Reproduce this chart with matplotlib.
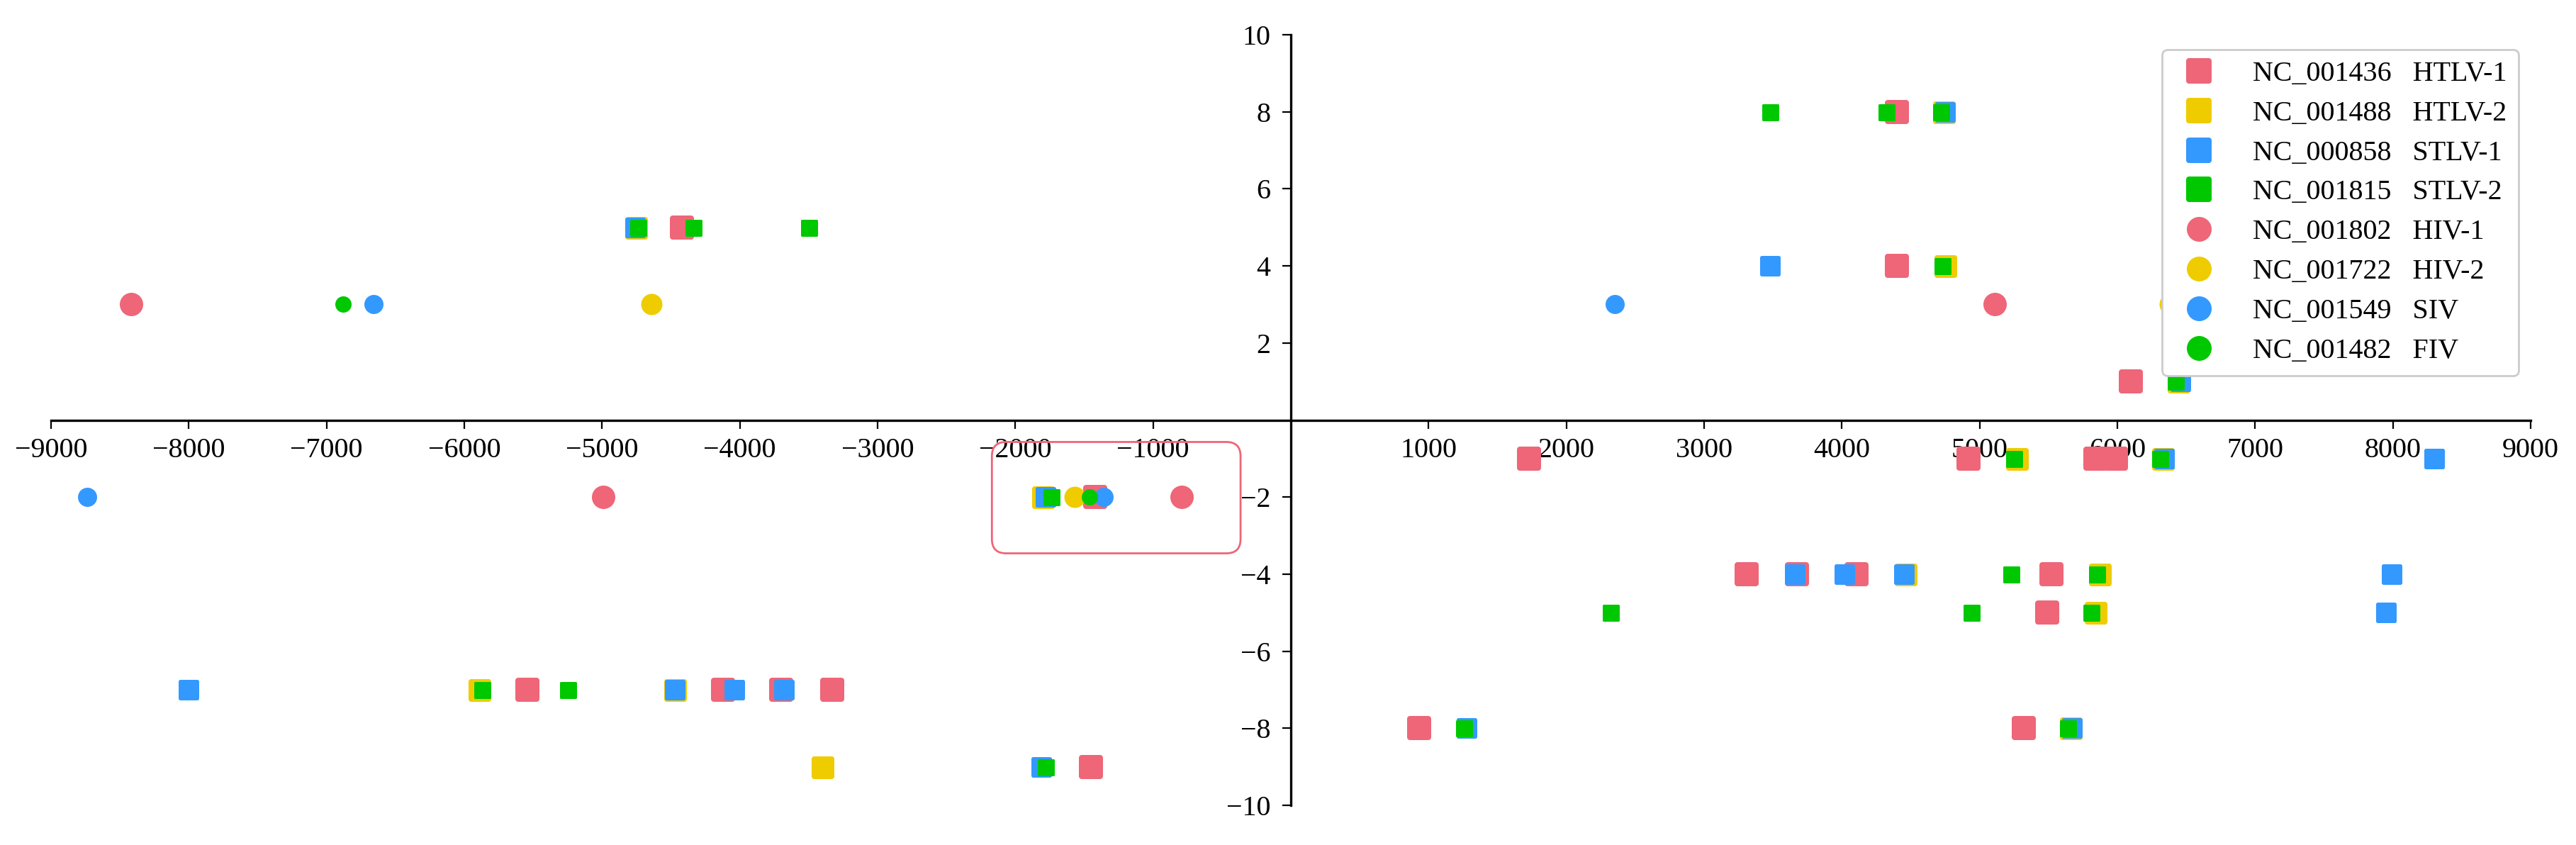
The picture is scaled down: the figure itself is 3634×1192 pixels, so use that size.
import matplotlib
matplotlib.use('Agg')
import matplotlib.pyplot as plt
from matplotlib.markers import MarkerStyle
from matplotlib.lines import Line2D
from matplotlib.patches import FancyBboxPatch

plt.rcParams['font.family'] = ['Liberation Serif', 'DejaVu Serif']
plt.rcParams['font.size'] = 28.8

RED = '#EE6677'
YELLOW = '#EECC00'
BLUE = '#3399FF'
GREEN = '#00C800'

labels = ['NC_001436   HTLV-1', 'NC_001488   HTLV-2', 'NC_000858   STLV-1', 'NC_001815   STLV-2',
          'NC_001802   HIV-1', 'NC_001722   HIV-2', 'NC_001549   SIV', 'NC_001482   FIV']

# squares
htlv1_x = [-4420, -5540, -4120, -3700, -3330, -1450, -1420, 4400, 4400, 6100, 1730, 4920, 5840, 5990,
           3310, 3675, 4107, 5520, 5490, 930, 5320]
htlv1_y = [5, -7, -7, -7, -7, -9, -2, 8, 4, 1, -1, -1, -1, -1, -4, -4, -4, -4, -5, -8, -8]

htlv2_x = [-4755, -5890, -4470, -3400, -1800, 4740, 4750, 6440, 5270, 6330, 4460, 5870, 5840, 5660]
htlv2_y = [5, -7, -7, -9, -2, 8, 4, 1, -1, -1, -4, -4, -5, -8]

stlv1_x = [-4760, -8000, -4470, -4040, -3680, -1810, -1780, 4750, 3480, 6460, 6340, 8300, 3660, 4020,
           4450, 7990, 7950, 1277, 5670]
stlv1_y = [5, -7, -7, -7, -7, -9, -2, 8, 4, 1, -1, -1, -4, -4, -4, -4, -5, -8, -8]

stlv2_x = [-4740, -4340, -3500, -5870, -5250, -1780, -1740, 3480, 4320, 4720, 4730, 6420, 5250, 6310,
           2320, 5230, 5850, 4940, 5810, 1256, 5640]
stlv2_y = [5, 5, 5, -7, -7, -9, -2, 8, 8, 8, 4, 1, -1, -1, -5, -4, -4, -5, -5, -8, -8]

# circles
hiv1_x = [-8420, -4990, -790, 5110]
hiv1_y = [3, -2, -2, 3]
hiv2_x = [-4640, -1570, 6380]
hiv2_y = [3, -2, 3]
siv_x = [-8740, -6660, -1360, 2350]
siv_y = [-2, 3, -2, 3]
fiv_x = [-6880, -1460]
fiv_y = [3, -2]

xticks = [-9000, -8000, -7000, -6000, -5000, -4000, -3000, -2000, -1000,
          1000, 2000, 3000, 4000, 5000, 6000, 7000, 8000, 9000]
yticks = [-10, -8, -6, -4, -2, 2, 4, 6, 8, 10]

# highlighted region (data coords)
box_x0, box_x1 = -2170, -365
box_y0, box_y1 = -3.46, -0.57

DPI = 100
def pt(px):
    return px * 72.0 / DPI

fig = plt.figure(figsize=(36.34, 11.92), dpi=DPI)
ax = fig.add_axes([72 / 3634, 1 - 1136 / 1192, 3498 / 3634, 1087 / 1192])

def squares(x, y, color, size_px, edge_px):
    ax.plot(x, y, linestyle='none', marker=MarkerStyle('s', joinstyle='round'),
            markersize=pt(size_px - edge_px), markerfacecolor=color,
            markeredgecolor=color, markeredgewidth=pt(edge_px))

def circles(x, y, color, size_px):
    ax.plot(x, y, linestyle='none', marker='o', markersize=pt(size_px),
            markerfacecolor=color, markeredgewidth=0)

squares(htlv1_x, htlv1_y, RED, 34, 8)
squares(htlv2_x, htlv2_y, YELLOW, 32, 7)
squares(stlv1_x, stlv1_y, BLUE, 29, 5)
squares(stlv2_x, stlv2_y, GREEN, 24, 3)
circles(hiv1_x, hiv1_y, RED, 33)
circles(hiv2_x, hiv2_y, YELLOW, 30)
circles(siv_x, siv_y, BLUE, 27)
circles(fiv_x, fiv_y, GREEN, 23)

ax.set_xlim(-9000, 9000)
ax.set_ylim(-10, 10)
ax.set_xticks(xticks)
ax.set_yticks(yticks)

ax.spines['left'].set_position(('data', 0))
ax.spines['bottom'].set_position(('data', 0))
ax.spines['top'].set_visible(False)
ax.spines['right'].set_visible(False)
for s in ['left', 'bottom']:
    ax.spines[s].set_linewidth(2.4)
ax.tick_params(axis='both', direction='out', length=pt(12), width=1.6, labelsize=28.8)
ax.tick_params(axis='x', pad=9)
ax.tick_params(axis='y', pad=12)

# rounded highlight box, drawn in inches so corners stay round
p0 = fig.dpi_scale_trans.inverted().transform(ax.transData.transform((box_x0, box_y1)))
p1 = fig.dpi_scale_trans.inverted().transform(ax.transData.transform((box_x1, box_y0)))
rad = 0.2
rect = FancyBboxPatch((p0[0] + rad, p1[1] + rad), (p1[0] - p0[0]) - 2 * rad, (p0[1] - p1[1]) - 2 * rad,
                      boxstyle='round,pad=%f,rounding_size=%f' % (rad, rad),
                      transform=fig.dpi_scale_trans, facecolor='none', edgecolor=RED, linewidth=2.0)
fig.patches.append(rect)

handles = []
colors = [RED, YELLOW, BLUE, GREEN, RED, YELLOW, BLUE, GREEN]
for i, c in enumerate(colors):
    if i < 4:
        h = Line2D([], [], linestyle='none', marker=MarkerStyle('s', joinstyle='round'),
                   markersize=pt(27), markerfacecolor=c, markeredgecolor=c, markeredgewidth=pt(8))
    else:
        h = Line2D([], [], linestyle='none', marker='o', markersize=pt(35),
                   markerfacecolor=c, markeredgewidth=0)
    handles.append(h)

leg = ax.legend(handles, labels, loc='upper right', bbox_to_anchor=(0.9951, 0.9807),
                borderaxespad=0, borderpad=0.4, handlelength=1.8, handletextpad=1.0,
                labelspacing=0.47, fancybox=True, framealpha=1, edgecolor='#cccccc',
                fontsize=28.8)
leg.get_frame().set_linewidth(2.0)

fig.savefig('out.png', dpi=DPI)
